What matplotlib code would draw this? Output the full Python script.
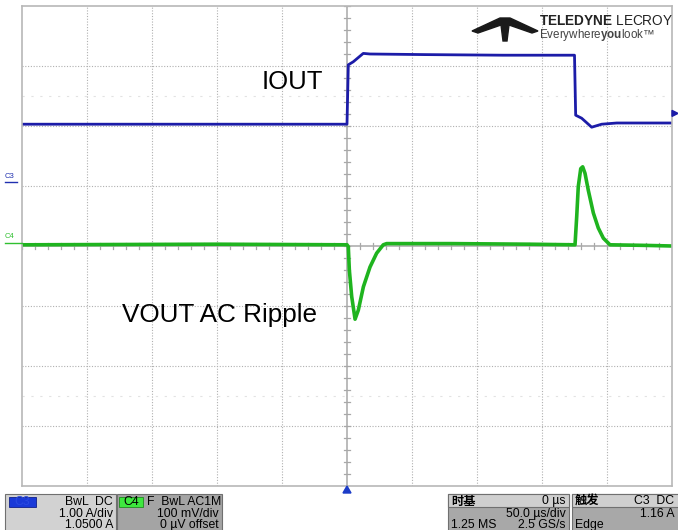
import matplotlib
matplotlib.use("Agg")
import matplotlib.pyplot as plt
from matplotlib.patches import Polygon, Rectangle

plt.rcParams['font.family'] = ['Liberation Sans', 'Noto Sans CJK SC', 'DejaVu Sans']
plt.rcParams['mathtext.fontset'] = 'custom'
plt.rcParams['mathtext.bf'] = 'Liberation Sans:bold'
plt.rcParams['mathtext.rm'] = 'Liberation Sans'

# scope settings
t_min, t_max = -250, 250          # 50 us/div, 10 div
amp_per_div = 1.00                # C3, A/div
c3_offset = 1.05                  # A
mv_per_div = 100                  # C4, mV/div
trig_level = 1.16                 # A

# IOUT (C3)
iout_t = [-250, 0, 1.0, 4.8, 12.5, 17.7, 60, 120, 175.0, 175.9, 180.5, 188.2, 195.9, 207.5, 250]
iout_a = [0.98, 0.98, 1.97, 2.02, 2.16, 2.15, 2.14, 2.13, 2.13, 1.13, 1.08, 0.93, 0.98, 1.00, 1.00]

# VOUT AC ripple (C4), mV
vout_t = [-250, -100, 0, 1.0, 1.8, 3.6, 6.2, 8.7, 12.6, 17.7, 22.8, 27.9, 30.5, 80, 140,
          175.0, 175.4, 176.7, 177.9, 179.8, 181.3, 183.1, 185.6, 189.5, 193.3, 197.2, 202.3, 230, 250]
vout_mv = [2, 3, 2, -1, -40, -84, -122, -107, -68, -35, -12, 2, 4, 4, 3,
           2, 2, 49, 99, 129, 132, 121, 93, 55, 30, 13, 2, 1, 0]

W, H = 678, 530
fig = plt.figure(figsize=(W / 100, H / 100), dpi=100)
fig.patch.set_facecolor('white')
ax = fig.add_axes([22 / W, 44 / H, 650 / W, 480 / H])
ax.set_xlim(t_min, t_max)
ax.set_ylim(-4, 4)
ax.set_xticks([])
ax.set_yticks([])
for s in ax.spines.values():
    s.set_color('#b8b8b8')
    s.set_linewidth(1.2)

# graticule
for k in range(1, 10):
    if k != 5:
        ax.axvline(t_min + 50 * k, color='#b0b0b0', lw=0.8, ls=(0, (1, 1.5)))
for k in range(-3, 4):
    if k != 0:
        ax.axhline(k, color='#b0b0b0', lw=0.8, ls=(0, (1, 1.5)))
ax.axvline(0, color='#a8a8a8', lw=1.1)
ax.axhline(0, color='#a8a8a8', lw=1.1)
for k in range(-20, 21):
    yy = k * 0.2
    ax.plot([-2.3, 2.3], [yy, yy], color='#a8a8a8', lw=0.9)
for k in range(-25, 26):
    xx = k * 10
    ax.plot([xx, xx], [-0.05, 0.05], color='#a8a8a8', lw=0.9)
for yy in (2.5, -2.5):
    ax.axhline(yy, color='#e2e2e2', lw=0.8, ls=(0, (2, 6)))

# traces
iout_div = [(a + c3_offset) / amp_per_div for a in iout_a]
vout_div = [v / mv_per_div for v in vout_mv]
ax.plot(vout_t, vout_div, color='#1fb41f', lw=2.6, solid_joinstyle='round')
ax.plot(iout_t, iout_div, color='#1c1ca8', lw=2.0, solid_joinstyle='round')

ax.text(-66, 2.74, 'IOUT', fontsize=18.5, ha='left', va='center')
ax.text(-173, -1.15, 'VOUT AC Ripple', fontsize=18.8, ha='left', va='center')


def px(x, y):
    return x / W, 1 - y / H


# channel markers on the left
fig.text(*px(5, 180), 'C3', color='#2030b0', fontsize=5.5, va='bottom')
fig.add_artist(plt.Line2D([5 / W, 17 / W], [1 - 182 / H] * 2, color='#2030b0', lw=1))
fig.text(*px(5, 240), 'C4', color='#30c030', fontsize=5.5, va='bottom')
fig.add_artist(plt.Line2D([5 / W, 22 / W], [1 - 243 / H] * 2, color='#30c030', lw=1))
# trigger level marker on the right
trig_y = 246 - (trig_level + c3_offset) / amp_per_div * 60
fig.add_artist(Polygon([px(672, trig_y - 3), px(678, trig_y), px(672, trig_y + 3)],
                       closed=True, color='#1c1ca8', transform=fig.transFigure))
# trigger position marker
fig.add_artist(Polygon([px(343, 493), px(347, 486), px(351, 493)], closed=True,
                       color='#1c3cc8', transform=fig.transFigure))

# logo
logo = [(472, 31), (500, 18), (510, 18), (538, 31), (532, 33), (509, 25), (507, 41),
        (503, 41), (501, 25), (478, 33)]
fig.add_artist(Polygon([px(x, y) for x, y in logo], closed=True, color='#1a1a1a',
                       transform=fig.transFigure))
fig.text(*px(539, 21), r'$\bf{TELEDYNE}$ LECROY', fontsize=9.8, color='#222222', va='center')
fig.text(*px(539, 35), r'Everywhere$\bf{you}$look' + '\u2122', fontsize=8.4, color='#444444',
         va='center')

# info boxes
fs = 8.8


def box(x0, x1, y0, y1, fc):
    fig.add_artist(Rectangle(px(x0, y1), (x1 - x0) / W, (y1 - y0) / H, facecolor=fc,
                             edgecolor='#707070', lw=0.8, transform=fig.transFigure))


box(5, 116, 494, 532, '#d2d2d2')
fig.add_artist(Rectangle(px(9, 507), 27 / W, 10 / H, facecolor='#1a3ad8', edgecolor='#10208a',
                         lw=0.6, transform=fig.transFigure))
fig.text(*px(22, 502), 'C3', fontsize=fs, color='#2a4ae0', ha='center', va='center')
fig.text(*px(113, 502), 'BwL  DC', fontsize=fs, ha='right', va='center')
fig.text(*px(113, 514), '1.00 A/div', fontsize=fs, ha='right', va='center')
fig.text(*px(113, 525), '1.0500 A', fontsize=fs, ha='right', va='center')

box(117, 222, 494, 532, '#a4a4a4')
fig.add_artist(Rectangle(px(119, 507), 24 / W, 10 / H, facecolor='#3ee83e', edgecolor='#208a20',
                         lw=0.6, transform=fig.transFigure))
fig.text(*px(131, 502), 'C4', fontsize=fs, ha='center', va='center')
fig.text(*px(147, 502), 'F  BwL AC1M', fontsize=fs, ha='left', va='center')
fig.text(*px(219, 514), '100 mV/div', fontsize=fs, ha='right', va='center')
fig.text(*px(219, 525), '0 \u00b5V offset', fontsize=fs, ha='right', va='center')

box(448, 569, 494, 532, '#a8a8a8')
box(448, 569, 494, 507, '#cfcfcf')
fig.text(*px(451, 501), '时基', fontsize=fs, fontweight='bold', ha='left', va='center',
         family=['Noto Sans CJK SC'])
fig.text(*px(566, 501), '0 \u00b5s', fontsize=fs, ha='right', va='center')
fig.text(*px(566, 514), '50.0 \u00b5s/div', fontsize=fs, ha='right', va='center')
fig.text(*px(451, 525), '1.25 MS', fontsize=fs, ha='left', va='center')
fig.text(*px(566, 525), '2.5 GS/s', fontsize=fs, ha='right', va='center')

box(572, 680, 494, 532, '#a8a8a8')
box(572, 680, 494, 507, '#cfcfcf')
fig.text(*px(575, 501), '触发', fontsize=fs, fontweight='bold', ha='left', va='center',
         family=['Noto Sans CJK SC'])
fig.text(*px(674, 501), 'C3  DC', fontsize=fs, ha='right', va='center')
fig.text(*px(674, 514), '1.16 A', fontsize=fs, ha='right', va='center')
fig.text(*px(575, 525), 'Edge', fontsize=fs, ha='left', va='center')

fig.savefig('out.png', dpi=100)
